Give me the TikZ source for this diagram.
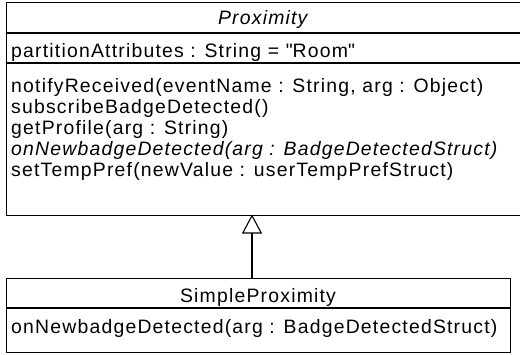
\documentclass[tikz,border=0pt]{standalone}
\usepackage{fontspec}
\setmainfont[LetterSpace=6.2]{Liberation Sans}
\usetikzlibrary{arrows.meta}
\begin{document}
\begin{tikzpicture}[x=1pt,y=-1pt,
  box/.style={draw, line width=1.2pt, inner sep=0pt, anchor=north west},
  txt/.style={anchor=base west, inner sep=0pt, font=\fontsize{19.4}{21}\selectfont},
  ctxt/.style={anchor=base, inner sep=0pt, font=\fontsize{19.4}{21}\selectfont},
  divider/.style={line width=1.2pt},
  gen/.style={line width=1.4pt, -{Triangle[open, length=19pt, width=20pt, line width=1.1pt]}}]
\useasboundingbox (0,0) rectangle (520,354);
% Proximity class
\node[box, minimum width=513.5pt, minimum height=212.5pt] (prox) at (6,2) {};
\draw[divider] (6,33) -- (519.5,33);
\draw[divider] (6,63) -- (519.5,63);
\node[ctxt] (pname) at (262.75,24) {\itshape Proximity};
\node[txt] (pattr) at (11,57) {partitionAttributes : String = \textquotedbl Room\textquotedbl};
\node[txt] (m1) at (11,92) {notifyReceived(eventName : String, arg : Object)};
\node[txt] (m2) at (11,113) {subscribeBadgeDetected()};
\node[txt] (m3) at (11,134) {getProfile(arg : String)};
\node[txt] (m4) at (11,155) {\itshape onNewbadgeDetected(arg : BadgeDetectedStruct)};
\node[txt] (m5) at (11,176) {setTempPref(newValue : userTempPrefStruct)};
% SimpleProximity class
\node[box, minimum width=504pt, minimum height=74pt] (simple) at (6,278) {};
\draw[divider] (6,308) -- (510,308);
\node[ctxt] (sname) at (258,302) {SimpleProximity};
\node[txt] (s1) at (11,333) {onNewbadgeDetected(arg : BadgeDetectedStruct)};
% generalization
\coordinate (gfrom) at (252,278);
\coordinate (gto) at (252,214.5);
\draw[gen] (gfrom) -- (gto);
\end{tikzpicture}
\end{document}
